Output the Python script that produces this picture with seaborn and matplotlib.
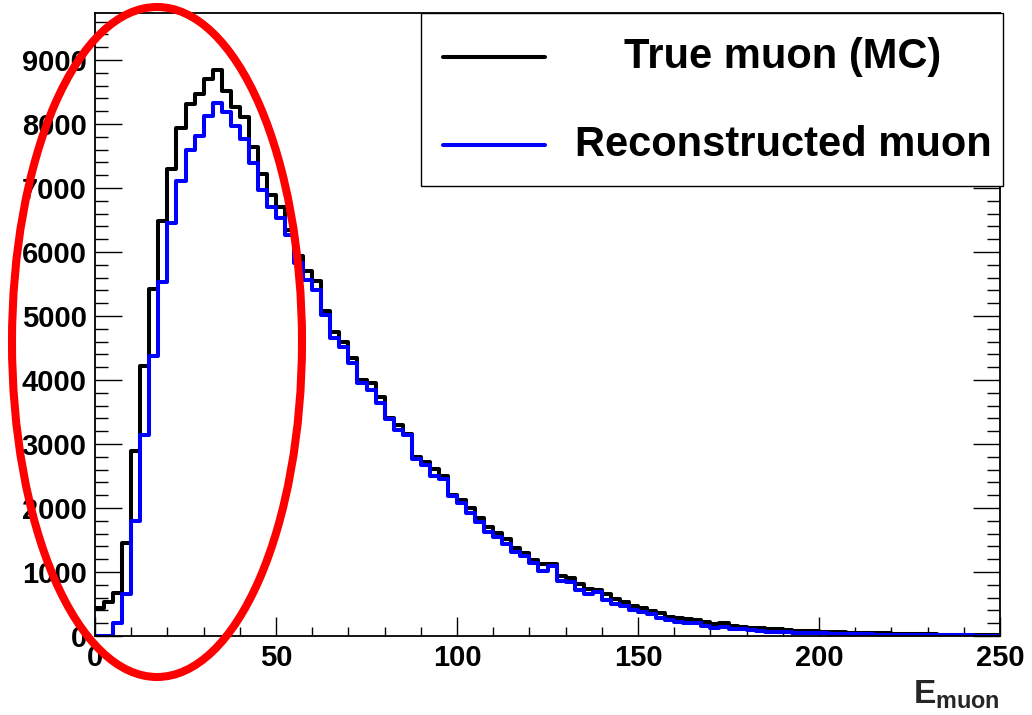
import numpy as np
import pandas as pd
import matplotlib
matplotlib.use("Agg")
import matplotlib.pyplot as plt
import seaborn as sns
from matplotlib.patches import Ellipse, Rectangle
from matplotlib.lines import Line2D
from matplotlib.ticker import MultipleLocator

# ---------------- data ----------------
bin_width = 2.5
x_min, x_max = 0, 250
y_max = 9734

true_counts = [437, 536, 677, 1448, 2890, 4219, 5422, 6484, 7297, 7930,
               8312, 8464, 8698, 8844, 8521, 8260, 8114, 7645, 7219, 6890,
               6710, 6350, 5945, 5700, 5552, 5083, 4755, 4599, 4339, 4000,
               3958, 3740, 3401, 3297, 3160, 2802, 2720, 2610, 2495, 2203,
               2125, 1995, 1839, 1708, 1604, 1510, 1380, 1302, 1188, 1125,
               1125, 942, 911, 813, 730, 725, 650, 578, 536, 475,
               432, 396, 365, 302, 276, 260, 250, 214, 188, 198,
               161, 146, 130, 118, 104, 104, 90, 83, 80, 76,
               68, 62, 57, 52, 50, 46, 42, 40, 36, 33,
               30, 28, 25, 23, 21, 19, 17, 16, 14, 13]

reco_counts = [0, 0, 208, 651, 1802, 3141, 4380, 5526, 6448, 7109,
               7594, 7813, 8130, 8323, 8182, 7969, 7760, 7385, 6969, 6708,
               6526, 6270, 5830, 5563, 5406, 5016, 4651, 4521, 4260, 3958,
               3844, 3635, 3385, 3219, 3145, 2770, 2672, 2500, 2450, 2193,
               2073, 1917, 1786, 1630, 1552, 1432, 1318, 1250, 1135, 1021,
               1099, 859, 849, 719, 656, 680, 565, 500, 463, 412,
               368, 339, 286, 250, 224, 198, 198, 161, 120, 146,
               109, 104, 95, 80, 68, 62, 55, 50, 45, 42,
               40, 36, 32, 30, 27, 25, 23, 21, 19, 17,
               15, 14, 12, 11, 10, 9, 8, 7, 7, 6]

series_labels = ["True muon (MC)", "Reconstructed muon"]
series_colors = ["black", "#0000ff"]
x_ticks = [0, 50, 100, 150, 200, 250]
y_ticks = [0, 1000, 2000, 3000, 4000, 5000, 6000, 7000, 8000, 9000]
x_label = r"$\mathrm{E}_{\mathrm{muon}}$"

# ---------------- style ----------------
sns.set_style("white")
plt.rcParams["font.family"] = ["Liberation Sans", "DejaVu Sans"]
plt.rcParams["font.weight"] = "bold"
plt.rcParams["mathtext.fontset"] = "custom"
plt.rcParams["mathtext.rm"] = "Liberation Sans:bold"
plt.rcParams["mathtext.it"] = "Liberation Sans:bold"
plt.rcParams["mathtext.bf"] = "Liberation Sans:bold"

n = len(true_counts)
edges = [x_min + bin_width * i for i in range(n + 1)]
centers = [e + bin_width / 2 for e in edges[:-1]]
df = pd.DataFrame({
    "E": centers + centers,
    "count": list(true_counts) + list(reco_counts),
    "series": [series_labels[0]] * n + [series_labels[1]] * n,
})

W, H = 1032, 715
fig = plt.figure(figsize=(W / 100, H / 100), dpi=100)
ax = fig.add_axes([95 / W, 79 / H, 905 / W, 623 / H])

for lab, col in zip(series_labels, series_colors):
    sns.histplot(data=df[df["series"] == lab], x="E", weights="count",
                 bins=edges, element="step", fill=False, color=col,
                 linewidth=2.9, ax=ax)

ax.set_xlim(x_min, x_max)
ax.set_ylim(0, y_max)
ax.set_ylabel("")
ax.set_xticks(x_ticks)
ax.set_yticks(y_ticks)
ax.xaxis.set_minor_locator(MultipleLocator(10))
ax.yaxis.set_minor_locator(MultipleLocator(200))
ax.tick_params(axis="both", which="both", direction="in", width=1.0,
               colors="black", labelsize=21)
ax.tick_params(axis="y", which="both", left=True, right=True, pad=6)
ax.tick_params(axis="y", which="major", length=19.4)
ax.tick_params(axis="y", which="minor", length=9.7)
ax.tick_params(axis="x", which="both", bottom=True, top=False, pad=6)
ax.tick_params(axis="x", which="major", length=13.5)
ax.tick_params(axis="x", which="minor", length=6.7)
for lbl in ax.get_xticklabels() + ax.get_yticklabels():
    lbl.set_fontweight("bold")
for sp in ax.spines.values():
    sp.set_color("black")
    sp.set_linewidth(1.3)

ax.set_xlabel(x_label, fontsize=24, loc="right")
ax.xaxis.set_label_coords(1.0, -0.068)
ax.xaxis.label.set_va("top")

# ---------------- legend (ROOT style box) ----------------
tf = fig.transFigure
box = Rectangle((421 / W, (H - 186) / H), 582 / W, 173 / H, transform=tf,
                facecolor="white", edgecolor="black", linewidth=1.0,
                zorder=5)
fig.add_artist(box)
for yy, col, lab in [(57, series_colors[0], series_labels[0]),
                     (145, series_colors[1], series_labels[1])]:
    fig.add_artist(Line2D([443 / W, 545 / W], [(H - yy) / H] * 2,
                          transform=tf, color=col, linewidth=2.9, zorder=6))
    fig.text(783 / W, (H - yy) / H, lab, ha="center", va="center",
             fontsize=30, fontweight="bold", color="black", zorder=6)

# ---------------- red highlight ellipse ----------------
ell = Ellipse((157 / W, (H - 342) / H), 290 / W, 670 / H, transform=tf,
              fill=False, edgecolor="#ff0000", linewidth=5.8, zorder=10,
              clip_on=False)
fig.add_artist(ell)

fig.savefig("out.png", dpi=100, facecolor="white")
